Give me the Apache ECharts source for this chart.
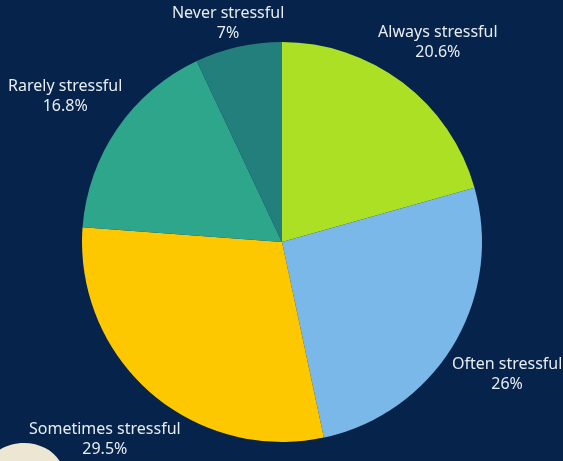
<!DOCTYPE html>
<html>
<head>
<meta charset="utf-8">
<script src="https://cdn.jsdelivr.net/npm/echarts@6/dist/echarts.min.js"></script>
<style>
  html, body { margin: 0; padding: 0; background: #05234b; }
  #chart { width: 563px; height: 461px; }
</style>
</head>
<body>
<div id="chart"></div>
<script>
// Stress frequency shares (percent), clockwise from 12 o'clock
const categories = ['Always stressful', 'Often stressful', 'Sometimes stressful', 'Rarely stressful', 'Never stressful'];
const shares = [20.6, 26, 29.5, 16.8, 7];

const sliceColors = ['#abe024', '#79b8e8', '#fec800', '#2ea68c', '#237f7c'];
// distance of each label from the pie rim
const labelGaps = [50, 57, 62, 57, 24];

const chart = echarts.init(document.getElementById('chart'), null, { renderer: 'canvas' });

chart.setOption({
  backgroundColor: '#05234b',
  animation: false,
  graphic: [{
    type: 'ellipse',
    shape: { cx: 24, cy: 476, rx: 40, ry: 33 },
    style: { fill: '#ece6d3' },
    z: -1
  }],
  series: [{
    type: 'pie',
    center: [282, 242],
    radius: [0, 200],
    startAngle: 90,
    clockwise: true,
    avoidLabelOverlap: false,
    label: {
      show: true,
      position: 'outside',
      formatter: '{b}\n{c}%',
      color: '#e8edf2',
      fontFamily: 'Noto Sans',
      fontSize: 16,
      lineHeight: 20,
      width: 220,
      align: 'center'
    },
    labelLine: { show: false, length2: 0 },
    labelLayout: function () {
      return { align: 'center', verticalAlign: 'middle' };
    },
    emphasis: { disabled: true },
    itemStyle: { borderWidth: 0 },
    data: categories.map((name, i) => ({
      name: name,
      value: shares[i],
      itemStyle: { color: sliceColors[i] },
      labelLine: { length: labelGaps[i], length2: 0, show: false }
    }))
  }]
});
</script>
</body>
</html>
